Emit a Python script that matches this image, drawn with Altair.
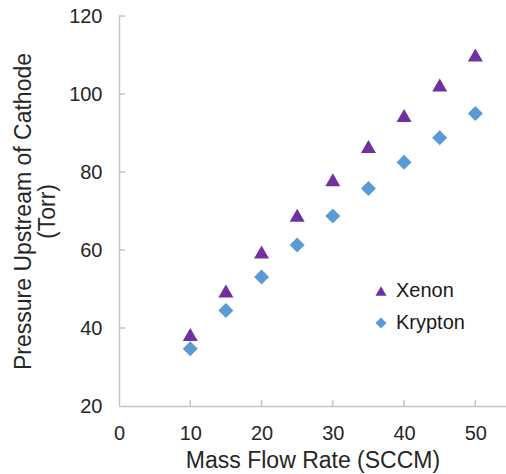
import altair as alt
import pandas as pd

flow = [10, 15, 20, 25, 30, 35, 40, 45, 50]
xenon = [37.8, 49.0, 59.0, 68.4, 77.5, 86.0, 94.0, 101.8, 109.5]
krypton = [34.7, 44.5, 53.1, 61.3, 68.7, 75.8, 82.5, 88.8, 95.0]
series = ["Xenon", "Krypton"]
colors = ["#7030A0", "#5B9BD5"]
shapes = ["triangle-up", "diamond"]
x_ticks = [0, 10, 20, 30, 40, 50]
y_ticks = [20, 40, 60, 80, 100, 120]

df = pd.DataFrame({
    "flow": flow * 2,
    "pressure": xenon + krypton,
    "gas": ["Xenon"] * len(flow) + ["Krypton"] * len(flow),
})
xt = pd.DataFrame({"flow": x_ticks[1:]})
yt = pd.DataFrame({"pressure": y_ticks[1:]})

AX = "#c4c4c4"
TXT = "#262626"
FONT = "Liberation Sans"

xscale = alt.Scale(domain=[0, 54.3], nice=False, zero=False)
yscale = alt.Scale(domain=[20, 120], nice=False, zero=False)

xaxis = alt.Axis(values=x_ticks, title="Mass Flow Rate (SCCM)", ticks=False, grid=False,
                 labelFontSize=20, labelBaseline="alphabetic", labelPadding=33,
                 labelFlush=False, labelOverlap=False,
                 titleFontSize=23, titleFontWeight="normal", titleY=61,
                 titleBaseline="alphabetic")
yaxis = alt.Axis(values=y_ticks, title=["Pressure Upstream of Cathode", "(Torr)"],
                 ticks=False, grid=False, labelFontSize=20, labelPadding=17,
                 labelFlush=False, labelOverlap=False,
                 titleFontSize=23, titleFontWeight="normal", titleX=-89,
                 titleBaseline="alphabetic", titleLineHeight=24)

leg = alt.Legend(title=None, orient="none", legendX=252, legendY=265, padding=0,
                 symbolSize=121, labelFontSize=20, labelOffset=5, rowPadding=12,
                 labelColor="#1a1a1a", labelFont=FONT, symbolStrokeWidth=0)
color = alt.Color("gas:N", scale=alt.Scale(domain=series, range=colors), legend=leg)
shape = alt.Shape("gas:N", scale=alt.Scale(domain=series, range=shapes), legend=leg)

def pts(name, yoff):
    return alt.Chart(df).transform_filter(alt.datum.gas == name).mark_point(
        filled=True, size=225, opacity=1, yOffset=yoff
    ).encode(
        x=alt.X("flow:Q", scale=xscale, axis=xaxis),
        y=alt.Y("pressure:Q", scale=yscale, axis=yaxis),
        color=color, shape=shape,
    )

ytick_layer = alt.Chart(yt).mark_rule(color=AX, strokeWidth=1.5).encode(
    y=alt.Y("pressure:Q", scale=yscale), x=alt.value(0), x2=alt.value(6))
xtick_layer = alt.Chart(xt).mark_rule(color=AX, strokeWidth=1.5).encode(
    x=alt.X("flow:Q", scale=xscale), y=alt.value(390), y2=alt.value(384))

chart = alt.layer(ytick_layer, xtick_layer, pts("Krypton", 0), pts("Xenon", -2)).properties(
    width=387, height=390,
    padding={"left": 119, "top": 16, "right": 0, "bottom": 68},
    autosize=alt.AutoSizeParams(type="none"),
).configure_view(stroke=None).configure_axis(
    domainColor=AX, domainWidth=1.5, labelColor=TXT, titleColor=TXT,
    labelFont=FONT, titleFont=FONT,
)

chart.save("out.html", embed_options={"renderer": "svg", "actions": False})
